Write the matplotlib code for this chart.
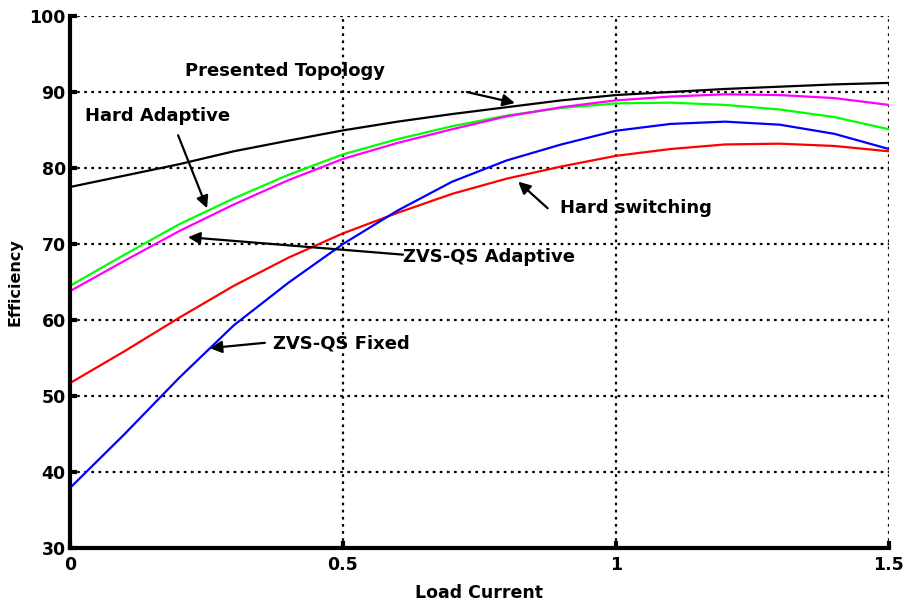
import numpy as np
from matplotlib import pyplot as plt

plt.rcParams['font.family'] = ['DejaVu Sans']
plt.rcParams['font.weight'] = 'bold'

# load current samples
load = [0, 0.1, 0.2, 0.3, 0.4, 0.5, 0.6, 0.7, 0.8, 0.9, 1.0, 1.1, 1.2, 1.3, 1.4, 1.5]

# efficiency curves
presented = [77.5, 79.0, 80.5, 82.2, 83.6, 84.95, 86.1, 87.1, 88.0, 88.9, 89.6, 90.0, 90.4, 90.7, 91.0, 91.2]
hard_adaptive = [64.5, 68.6, 72.6, 76.0, 79.1, 81.8, 83.8, 85.5, 86.9, 87.9, 88.5, 88.6, 88.3, 87.7, 86.7, 85.1]
zvs_adaptive = [63.8, 67.8, 71.7, 75.2, 78.4, 81.2, 83.3, 85.1, 86.8, 88.0, 88.9, 89.4, 89.7, 89.6, 89.2, 88.3]
hard_switching = [51.7, 55.9, 60.3, 64.5, 68.2, 71.4, 74.1, 76.6, 78.6, 80.2, 81.6, 82.5, 83.1, 83.2, 82.9, 82.2]
zvs_fixed = [37.9, 45.0, 52.4, 59.3, 64.9, 70.0, 74.4, 78.2, 81.0, 83.1, 84.9, 85.8, 86.1, 85.7, 84.5, 82.5]

fig = plt.figure(figsize=(9.07, 6.04), dpi=100)
ax = fig.add_axes([0.0772, 0.0927, 0.9028, 0.8808])

ax.plot(load, presented, color='black', lw=1.6)
ax.plot(load, hard_adaptive, color='#00ff00', lw=1.6)
ax.plot(load, zvs_adaptive, color='magenta', lw=1.6)
ax.plot(load, hard_switching, color='red', lw=1.6)
ax.plot(load, zvs_fixed, color='blue', lw=1.6)

ax.set_xlim(0, 1.5)
ax.set_ylim(30, 100)
ax.set_xticks([0, 0.5, 1, 1.5])
ax.set_xticklabels(['0', '0.5', '1', '1.5'])
ax.set_yticks(range(30, 101, 10))
ax.grid(True, color='black', linestyle=(0, (1.2, 2.0)), linewidth=1.6)
for s in ['top', 'right']:
    ax.spines[s].set_visible(False)
for s in ['left', 'bottom']:
    ax.spines[s].set_linewidth(3)
ax.tick_params(direction='in', length=5, width=3, labelsize=12.5)
ax.tick_params(axis='x', pad=6)
ax.tick_params(axis='y', pad=3)
for lab in ax.get_xticklabels() + ax.get_yticklabels():
    lab.set_fontweight('bold')

ax.set_xlabel('Load Current', fontsize=12.5, fontweight='bold', labelpad=7)
ax.set_ylabel('Efficiency', fontsize=11.5, fontweight='bold', labelpad=5)

arrow = dict(arrowstyle='-|>', color='black', lw=1.6, mutation_scale=18, shrinkA=0, shrinkB=0)
fs = 13
ax.annotate('', xy=(0.815, 88.55), xytext=(0.727, 90.0), arrowprops=arrow)
ax.text(0.21, 92.7, 'Presented Topology', fontsize=fs, fontweight='bold', ha='left', va='center')

ax.annotate('', xy=(0.251, 74.7), xytext=(0.198, 84.3), arrowprops=arrow)
ax.text(0.027, 86.9, 'Hard Adaptive', fontsize=fs, fontweight='bold', ha='left', va='center')

ax.annotate('', xy=(0.821, 78.2), xytext=(0.875, 74.7), arrowprops=arrow)
ax.text(0.897, 74.7, 'Hard switching', fontsize=fs, fontweight='bold', ha='left', va='center')

ax.annotate('', xy=(0.216, 70.9), xytext=(0.610, 68.6), arrowprops=arrow)
ax.text(0.61, 68.3, 'ZVS-QS Adaptive', fontsize=fs, fontweight='bold', ha='left', va='center')

ax.annotate('', xy=(0.256, 56.3), xytext=(0.357, 57.0), arrowprops=arrow)
ax.text(0.372, 56.9, 'ZVS-QS Fixed', fontsize=fs, fontweight='bold', ha='left', va='center')

plt.savefig('out.png', dpi=100)
